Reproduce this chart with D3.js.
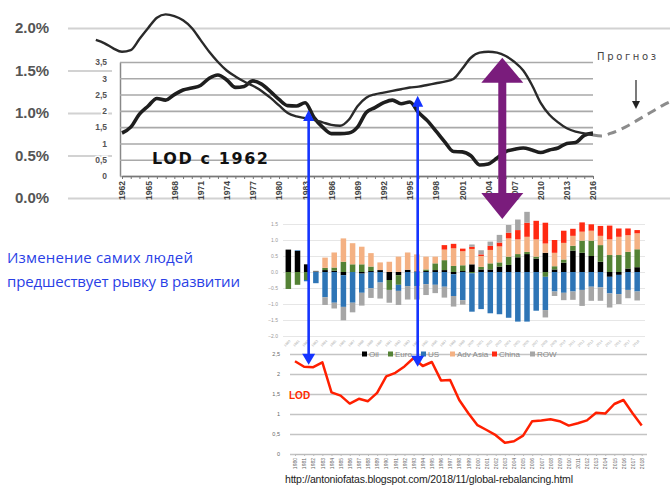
<!DOCTYPE html>
<html>
<head>
<meta charset="utf-8">
<script src="https://cdn.jsdelivr.net/npm/d3@7"></script>
<style>
  body { margin: 0; background: #fff; }
  svg { display: block; font-family: "Liberation Sans", Arial, sans-serif; }
</style>
</head>
<body>
<div id="chart"></div>
<script>
// ---- top chart: LOD since 1962 (inner) + trend in % (outer) ----
const lodYears = d3.range(1962, 2017);
const lodTop = [1.32, 1.5, 1.9, 2.15, 2.38, 2.33, 2.5, 2.64, 2.7, 2.78,
                3.0, 3.1, 2.95, 2.72, 2.75, 2.92, 2.82, 2.6, 2.35, 2.16,
                2.15, 2.25, 1.8, 1.5, 1.3, 1.3, 1.32, 1.5, 1.95, 2.1,
                2.25, 2.33, 2.22, 2.27, 1.95, 1.7, 1.38, 1.05, 0.75, 0.74,
                0.62, 0.34, 0.37, 0.55, 0.75, 0.82, 0.86, 0.8, 0.72, 0.8,
                0.86, 1.0, 1.03, 1.25, 1.32];
const lodTicks = [0, 0.5, 1, 1.5, 2, 2.5, 3, 3.5];

const trendYears = d3.range(1959, 2017);
const trendPct = [1.86, 1.82, 1.76, 1.72, 1.74, 1.87, 2.0, 2.12, 2.16, 2.14,
                  2.09, 2.0, 1.86, 1.72, 1.6, 1.5, 1.43, 1.37, 1.32, 1.26,
                  1.18, 1.09, 1.0, 0.96, 0.94, 0.92, 0.89, 0.86, 0.85, 0.92,
                  1.08, 1.18, 1.22, 1.24, 1.26, 1.28, 1.3, 1.31, 1.33, 1.35,
                  1.37, 1.4, 1.52, 1.65, 1.71, 1.72, 1.71, 1.67, 1.6, 1.5,
                  1.33, 1.12, 0.98, 0.89, 0.82, 0.78, 0.76, 0.74];
const forecastYears = d3.range(2016, 2026);
const forecastPct = [0.74, 0.73, 0.76, 0.8, 0.85, 0.91, 0.97, 1.03, 1.09, 1.14];
const pctTicks = [0, 0.5, 1, 1.5, 2];

// ---- middle chart: stacked contributions ----
const barYears = d3.range(1980, 2019);
const barKeys = ['Oil', 'Euro', 'US', 'Adv Asia', 'China', 'ROW'];
const barColors = ['#000000', '#548235', '#2e75b6', '#f4b183', '#ff2a12', '#a6a6a6'];
const oil = [0.7, 0.66, 0.24, 0.02, 0.06, 0.04, -0.1, 0, -0.05, 0.03,
             0.06, -0.25, -0.1, 0.07, 0.02, 0.03, 0.06, 0.06, -0.07, 0.03,
             0.24, 0.08, 0.08, 0.17, 0.22, 0.46, 0.56, 0.42, 0.6, 0.08,
             0.29, 0.67, 0.6, 0.5, 0.32, -0.15, -0.09, 0.11, 0.15];
const euro = [-0.53, -0.4, -0.25, 0, 0.07, 0.1, 0.32, 0.24, 0.24, 0.14,
              0, -0.31, -0.3, 0, 0, 0.05, 0.21, 0.31, 0.19, 0.18,
              -0.04, 0.08, 0.19, 0.13, 0.26, 0.1, 0.07, 0.06, -0.15, 0.1,
              0.1, 0.15, 0.38, 0.48, 0.52, 0.53, 0.53, 0.52, 0.56];
const us = [0, 0.02, -0.04, -0.35, -0.79, -0.96, -0.99, -0.96, -0.6, -0.51,
            -0.33, 0, -0.19, -0.44, -0.44, -0.38, -0.4, -0.46, -0.68, -0.88,
            -1.2, -1.16, -1.29, -1.32, -1.43, -1.55, -1.55, -1.21, -1.04, -0.61,
            -0.65, -0.61, -0.56, -0.46, -0.48, -0.52, -0.6, -0.56, -0.61];
const advAsia = [0, 0, 0, 0, 0.32, 0.47, 0.73, 0.66, 0.55, 0.42,
                 0.24, 0.32, 0.48, 0.54, 0.53, 0.4, 0.21, 0.33, 0.55, 0.44,
                 0.48, 0.34, 0.42, 0.5, 0.57, 0.46, 0.47, 0.54, 0.29, 0.42,
                 0.52, 0.31, 0.28, 0.31, 0.29, 0.49, 0.57, 0.52, 0.5];
const china = [0, 0, 0, 0, 0, 0, 0, 0, 0, 0,
               0, 0, 0, 0, 0, 0, 0, 0.14, 0.14, 0.08,
               0.07, 0.05, 0.13, 0.12, 0.18, 0.29, 0.44, 0.58, 0.65, 0.4,
               0.38, 0.22, 0.29, 0.2, 0.31, 0.43, 0.26, 0.21, 0.1];
const row = [0, 0, 0, 0.02, -0.24, -0.18, -0.42, -0.3, -0.4, -0.3,
             -0.5, -0.4, -0.44, -0.42, -0.42, -0.34, -0.26, -0.34, -0.33, -0.14,
             0.07, 0.13, 0.13, 0.24, 0.24, 0.33, 0.34, 0, -0.23, -0.14,
             -0.23, -0.26, -0.5, -0.44, -0.42, -0.44, -0.31, -0.26, -0.28];
const barTicks = [-2, -1.5, -1, -0.5, 0, 0.5, 1, 1.5];

// ---- bottom chart: LOD since 1980 ----
const lodBottom = [2.32, 2.18, 2.17, 2.29, 1.54, 1.46, 1.26, 1.38, 1.32, 1.53,
                   1.94, 2.03, 2.19, 2.4, 2.2, 2.3, 1.84, 1.85, 1.35, 1.02,
                   0.72, 0.6, 0.47, 0.28, 0.32, 0.46, 0.82, 0.84, 0.87, 0.82,
                   0.71, 0.77, 0.84, 1.03, 1.01, 1.25, 1.35, 1.02, 0.71];
const lineTicks = [0, 0.5, 1, 1.5, 2, 2.5];

// annotation arrows (years on top scale, values on the charts they touch)
const blueArrows = [
  { year: 1983.4, topVal: 2.03, botVal: 2.23 },
  { year: 1995.9, topVal: 2.46, botVal: 2.18 }
];
const purpleArrow = { year: 2005.6, topPct: 1.65, botVal: 1.66 };

const W = 670, H = 487;
const comma = d => String(d).replace('.', ',');

const svg = d3.select('#chart').append('svg')
  .attr('width', W)
  .attr('height', H);

svg.append('rect').attr('width', W).attr('height', H).attr('fill', '#fff');

// ================= top chart =================
const xTop = d3.scaleLinear().domain([1962, 2016]).range([122, 593]);
const yPct = d3.scaleLinear().domain([0, 2]).range([198, 28]);
const yLodTop = d3.scaleLinear().domain([0, 3.5]).range([176, 62]);

// outer axis with gridlines
svg.append('g')
  .attr('transform', 'translate(68,0)')
  .call(d3.axisLeft(yPct).tickValues(pctTicks).tickSize(-(W - 68)).tickSizeOuter(0)
    .tickFormat(d => d.toFixed(1) + '%'))
  .call(g => g.select('.domain').remove())
  .call(g => g.selectAll('.tick line').attr('stroke', '#d2d2d2').attr('stroke-width', 2))
  .call(g => g.selectAll('.tick text')
    .attr('x', -53)
    .attr('text-anchor', 'start')
    .attr('font-size', 15)
    .attr('font-weight', 'bold')
    .attr('font-family', '"Liberation Sans", Arial, sans-serif')
    .attr('fill', '#555'));

// white panel of the inset chart
svg.append('rect')
  .attr('x', 112).attr('y', 55)
  .attr('width', W - 112).attr('height', 141)
  .attr('fill', '#fff');

// inset chart grid + y axis
svg.append('g')
  .attr('transform', 'translate(120,0)')
  .call(d3.axisLeft(yLodTop).tickValues(lodTicks).tickSize(-(593 - 120)).tickSizeOuter(0)
    .tickPadding(13).tickFormat(comma))
  .call(g => g.select('.domain').attr('stroke', '#888').attr('stroke-width', 1.5))
  .call(g => g.selectAll('.tick line').attr('stroke', '#a9a9a9').attr('stroke-width', 1.6))
  .call(g => g.selectAll('.tick text')
    .attr('font-size', 8.5)
    .attr('font-weight', 'bold')
    .attr('fill', '#555')
    .attr('stroke', '#fff').attr('stroke-width', 3).attr('paint-order', 'stroke'));

// inset chart x axis
svg.append('g')
  .attr('transform', 'translate(0,176)')
  .call(d3.axisBottom(xTop).tickValues(lodYears).tickSize(3).tickSizeOuter(0)
    .tickFormat(d => (d - 1962) % 3 === 0 ? d : ''))
  .call(g => g.select('.domain').attr('stroke', '#777').attr('stroke-width', 1.5))
  .call(g => g.selectAll('.tick line').attr('stroke', '#777'))
  .call(g => g.selectAll('.tick text')
    .attr('transform', 'rotate(-90)')
    .attr('text-anchor', 'end')
    .attr('x', -5).attr('y', 0).attr('dy', '0.35em')
    .attr('font-size', 8.5)
    .attr('font-weight', 'bold')
    .attr('fill', '#444'));

svg.append('text')
  .attr('x', 152).attr('y', 164)
  .attr('font-family', '"DejaVu Sans", sans-serif')
  .attr('font-weight', 'bold')
  .attr('font-size', 16)
  .attr('textLength', 116)
  .attr('fill', '#111')
  .text('LOD с 1962');

// LOD line (thick)
svg.append('path')
  .datum(lodYears.map((y, i) => ({ year: y, v: lodTop[i] })))
  .attr('fill', 'none')
  .attr('stroke', '#1e1e1e')
  .attr('stroke-width', 3.6)
  .attr('stroke-linejoin', 'round')
  .attr('d', d3.line().x(d => xTop(d.year)).y(d => yLodTop(d.v)).curve(d3.curveMonotoneX));

// trend line (thin)
svg.append('path')
  .datum(trendYears.map((y, i) => ({ year: y, v: trendPct[i] })))
  .attr('fill', 'none')
  .attr('stroke', '#2a2a2a')
  .attr('stroke-width', 2.4)
  .attr('d', d3.line().x(d => xTop(d.year)).y(d => yPct(d.v)).curve(d3.curveMonotoneX));

// forecast (dashed)
svg.append('path')
  .datum(forecastYears.map((y, i) => ({ year: y, v: forecastPct[i] })))
  .attr('fill', 'none')
  .attr('stroke', '#8c8c8c')
  .attr('stroke-width', 3)
  .attr('stroke-dasharray', '9,6')
  .attr('d', d3.line().x(d => xTop(d.year)).y(d => yPct(d.v)).curve(d3.curveMonotoneX));

svg.append('text')
  .attr('x', 597).attr('y', 60)
  .attr('font-family', '"DejaVu Sans", sans-serif')
  .attr('font-size', 10)
  .attr('textLength', 59)
  .attr('fill', '#444')
  .text('Прогноз');

svg.append('line')
  .attr('x1', 636).attr('x2', 636).attr('y1', 80).attr('y2', 104)
  .attr('stroke', '#222').attr('stroke-width', 1.2);
svg.append('path')
  .attr('d', 'M632,101 L640,101 L636,109 Z')
  .attr('fill', '#222');

// ================= middle chart =================
const xBar = d3.scaleBand().domain(barYears).range([281.9, 643.6]).padding(0.4);
const yBar = d3.scaleLinear().domain([-2, 1.5]).range([336, 224]);

svg.append('g')
  .attr('transform', 'translate(283,0)')
  .call(d3.axisLeft(yBar).tickValues(barTicks).tickSize(-(645 - 283)).tickSizeOuter(0)
    .tickPadding(5))
  .call(g => g.select('.domain').remove())
  .call(g => g.selectAll('.tick line').attr('stroke', '#e6e6e6').attr('stroke-width', 1))
  .call(g => g.selectAll('.tick text').attr('font-size', 5).attr('fill', '#999'));

const barRows = barYears.map((y, i) => ({
  year: y, 'Oil': oil[i], 'Euro': euro[i], 'US': us[i],
  'Adv Asia': advAsia[i], 'China': china[i], 'ROW': row[i]
}));
const stacked = d3.stack().keys(barKeys).offset(d3.stackOffsetDiverging)(barRows);
const barColor = d3.scaleOrdinal().domain(barKeys).range(barColors);

svg.append('g')
  .selectAll('g')
  .data(stacked)
  .join('g')
  .attr('fill', d => barColor(d.key))
  .selectAll('rect')
  .data(d => d)
  .join('rect')
  .attr('x', d => xBar(d.data.year))
  .attr('width', xBar.bandwidth())
  .attr('y', d => yBar(d[1]))
  .attr('height', d => Math.abs(yBar(d[0]) - yBar(d[1])));

svg.append('g')
  .attr('transform', 'translate(0,339)')
  .call(d3.axisBottom(xBar).tickSize(0).tickPadding(1))
  .call(g => g.select('.domain').remove())
  .call(g => g.selectAll('.tick text')
    .attr('transform', 'rotate(-45)')
    .attr('text-anchor', 'end')
    .attr('font-size', 3.5)
    .attr('fill', '#aaa'));

// ================= bottom chart =================
const xLine = d3.scalePoint().domain(barYears).range([295, 641.7]);
const yLine = d3.scaleLinear().domain([0, 2.5]).range([454, 354]);

svg.append('g')
  .attr('transform', 'translate(290,0)')
  .call(d3.axisLeft(yLine).tickValues(lineTicks).tickSize(-(647 - 290)).tickSizeOuter(0)
    .tickPadding(10).tickFormat(comma))
  .call(g => g.select('.domain').remove())
  .call(g => g.selectAll('.tick line').attr('stroke', '#c4c4c4').attr('stroke-width', 1.3))
  .call(g => g.selectAll('.tick text').attr('font-size', 5.5).attr('fill', '#666'));

svg.append('g')
  .attr('transform', 'translate(0,454)')
  .call(d3.axisBottom(xLine).tickSize(2).tickSizeOuter(0))
  .call(g => g.select('.domain').attr('stroke', '#bbb'))
  .call(g => g.selectAll('.tick line').attr('stroke', '#bbb'))
  .call(g => g.selectAll('.tick text')
    .attr('transform', 'rotate(-90)')
    .attr('text-anchor', 'end')
    .attr('x', -4).attr('y', 0).attr('dy', '0.35em')
    .attr('font-size', 5)
    .attr('fill', '#666'));

// legend of the bar chart (sits on the 2,5 gridline)
const legendX = [362, 388, 421, 450, 492, 530];
const legend = svg.append('g').selectAll('g')
  .data(barKeys)
  .join('g')
  .attr('transform', (d, i) => `translate(${legendX[i]},354)`);
legend.append('rect')
  .attr('x', 0).attr('y', -2.5).attr('width', 5).attr('height', 5)
  .attr('fill', d => barColor(d));
legend.append('text')
  .attr('x', 7).attr('y', 0).attr('dy', '0.35em')
  .attr('font-size', 8)
  .attr('fill', '#888')
  .text(d => d);

svg.append('path')
  .datum(barYears.map((y, i) => ({ year: y, v: lodBottom[i] })))
  .attr('fill', 'none')
  .attr('stroke', '#ff1f00')
  .attr('stroke-width', 2.5)
  .attr('stroke-linejoin', 'round')
  .attr('d', d3.line().x(d => xLine(d.year)).y(d => yLine(d.v)));

svg.append('text')
  .attr('x', 289).attr('y', 399)
  .attr('font-weight', 'bold')
  .attr('font-size', 10)
  .attr('fill', '#ff2a00')
  .text('LOD');

svg.append('text')
  .attr('x', 285).attr('y', 483)
  .attr('font-size', 10.5)
  .attr('textLength', 288)
  .attr('fill', '#222')
  .text('http://antoniofatas.blogspot.com/2018/11/global-rebalancing.html');

// ================= left caption =================
const caption = svg.append('g')
  .attr('font-family', '"Open Sans", "Noto Sans", sans-serif')
  .attr('font-size', 15)
  .attr('fill', '#2a3fe6');
caption.append('text').attr('x', 7).attr('y', 263).attr('textLength', 186)
  .text('Изменение самих людей');
caption.append('text').attr('x', 7).attr('y', 287).attr('textLength', 233)
  .text('предшествует рывку в развитии');

// ================= arrows =================
const blue = '#1534ff';
blueArrows.forEach(a => {
  const x = xTop(a.year);
  const yTip = yLodTop(a.topVal);
  const yBot = yLine(a.botVal);
  svg.append('line')
    .attr('x1', x).attr('x2', x).attr('y1', yTip + 8).attr('y2', yBot - 9)
    .attr('stroke', blue).attr('stroke-width', 2.6);
  svg.append('path')
    .attr('d', `M${x},${yTip} L${x - 5.5},${yTip + 11} L${x + 5.5},${yTip + 11} Z`)
    .attr('fill', blue);
  svg.append('path')
    .attr('d', `M${x},${yBot} L${x - 6.5},${yBot - 11} L${x + 6.5},${yBot - 11} Z`)
    .attr('fill', blue);
});

const purple = '#7a1c7c';
{
  const x = xTop(purpleArrow.year);
  const yT = yPct(purpleArrow.topPct);
  const yB = yBar(purpleArrow.botVal);
  svg.append('rect')
    .attr('x', x - 4).attr('y', yT + 20).attr('width', 8).attr('height', yB - yT - 40)
    .attr('fill', purple);
  svg.append('path')
    .attr('d', `M${x},${yT} L${x - 21},${yT + 25} L${x + 21},${yT + 25} Z`)
    .attr('fill', purple);
  svg.append('path')
    .attr('d', `M${x},${yB} L${x - 21},${yB - 26} L${x + 21},${yB - 26} Z`)
    .attr('fill', purple);
}
</script>
</body>
</html>
